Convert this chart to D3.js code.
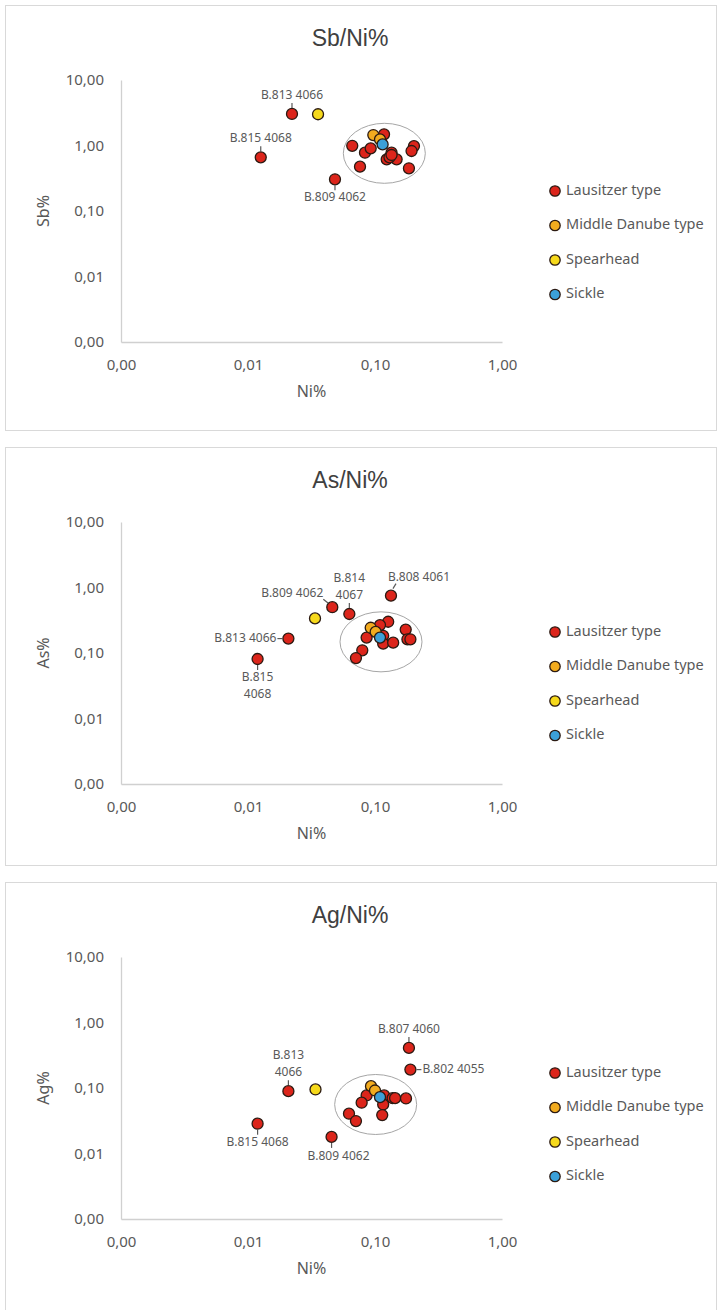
<!DOCTYPE html>
<html>
<head>
<meta charset="utf-8">
<script src="https://cdn.jsdelivr.net/npm/d3@7"></script>
<style>
  body { margin: 0; background: #fff; }
  text { font-family: "Noto Sans", sans-serif; fill: #595959; }
  .title { font-family: "Liberation Sans Narrow", "Liberation Sans", sans-serif; fill: #404040; }
</style>
</head>
<body>
<svg width="719" height="1310"></svg>
<script>
const width = 719;
const height = 1310;

const typeNames = ["Lausitzer type", "Middle Danube type", "Spearhead", "Sickle"];
const typeColors = ["#dc251b", "#f2ab1f", "#f6d91b", "#3ca0d8"];
const xTickValues = [0.001, 0.01, 0.1, 1];
const yTickValues = [0.001, 0.01, 0.1, 1, 10];

// [Ni%, value%, type index]
const sbPoints = [
    [0.0222, 3.03, 0], [0.0126, 0.66, 0], [0.0484, 0.305, 0], [0.0662, 0.99, 0],
    [0.0834, 0.776, 0], [0.0925, 0.906, 0], [0.0762, 0.475, 0], [0.1178, 1.48, 0],
    [0.135, 0.776, 0], [0.1236, 0.615, 0], [0.148, 0.615, 0], [0.13, 0.66, 0],
    [0.135, 0.716, 0], [0.2027, 0.98, 0], [0.194, 0.824, 0], [0.185, 0.449, 0],
    [0.097, 1.445, 1], [0.1095, 1.24, 1], [0.0356, 3.0, 2], [0.1148, 1.04, 3],
];
const asPoints = [
    [0.0119, 0.081, 0], [0.0208, 0.166, 0], [0.0461, 0.5, 0], [0.0628, 0.394, 0],
    [0.1336, 0.75, 0], [0.127, 0.30, 0], [0.1095, 0.267, 0], [0.0859, 0.172, 0],
    [0.116, 0.183, 0], [0.116, 0.139, 0], [0.139, 0.144, 0], [0.1745, 0.228, 0],
    [0.18, 0.162, 0], [0.19, 0.162, 0], [0.0794, 0.11, 0], [0.0708, 0.0838, 0],
    [0.0925, 0.243, 1], [0.1012, 0.21, 1], [0.0337, 0.337, 2], [0.1095, 0.172, 3],
];
const agPoints = [
    [0.0119, 0.0285, 0], [0.0208, 0.0895, 0], [0.0455, 0.0179, 0], [0.185, 0.409, 0],
    [0.19, 0.191, 0], [0.0859, 0.0769, 0], [0.118, 0.0769, 0], [0.1377, 0.07, 0],
    [0.144, 0.07, 0], [0.1754, 0.0692, 0], [0.116, 0.056, 0], [0.0785, 0.0596, 0],
    [0.114, 0.0386, 0], [0.0624, 0.0405, 0], [0.0708, 0.0313, 0],
    [0.093, 0.1066, 1], [0.1, 0.0916, 1], [0.034, 0.095, 2], [0.1095, 0.0725, 3],
];

// [point index, text lines, placement]
const sbLabels = [
    [0, ["B.813 4066"], "above"],
    [1, ["B.815 4068"], "above"],
    [2, ["B.809 4062"], "below"],
];
const asLabels = [
    [4, ["B.808 4061"], "aboveRight"],
    [2, ["B.809 4062"], "aboveLeft"],
    [3, ["B.814", "4067"], "above"],
    [1, ["B.813 4066"], "left"],
    [0, ["B.815", "4068"], "below"],
];
const agLabels = [
    [3, ["B.807 4060"], "above"],
    [4, ["B.802 4055"], "right"],
    [1, ["B.813", "4066"], "above"],
    [0, ["B.815 4068"], "below"],
    [2, ["B.809 4062"], "belowRight"],
];

// cluster ellipse: [Ni%, value%] centre
const sbCluster = [0.1184, 0.76];
const asCluster = [0.1115, 0.148];
const agCluster = [0.1012, 0.056];

const panels = [
    { title: "Sb/Ni%", yLabel: "Sb%", points: sbPoints, labels: sbLabels, cluster: sbCluster, top: 5, h: 425, legendY: 111 },
    { title: "As/Ni%", yLabel: "As%", points: asPoints, labels: asLabels, cluster: asCluster, top: 447, h: 418, legendY: 110 },
    { title: "Ag/Ni%", yLabel: "Ag%", points: agPoints, labels: agLabels, cluster: agCluster, top: 882, h: 432, legendY: 116 },
];

const plot = { left: 121, top: 75, w: 381, h: 262 };
const fmt = (v) => d3.format(".2f")(v).replace(".", ",");

const svg = d3.select("svg");

panels.forEach((p) => {
    const pg = svg.append("g").attr("transform", `translate(0, ${p.top})`);

    pg.append("rect")
        .attr("x", 5.5).attr("y", 0.5)
        .attr("width", 711).attr("height", p.h)
        .attr("fill", "#fff")
        .attr("stroke", "#d9d9d9");

    pg.append("text")
        .attr("class", "title")
        .attr("x", 350).attr("y", 35)
        .attr("text-anchor", "middle")
        .attr("dominant-baseline", "middle")
        .style("font-size", "23px")
        .text(p.title);

    const g = pg.append("g").attr("transform", `translate(${plot.left}, ${plot.top})`);

    const x = d3.scaleLog().domain([0.001, 1]).range([0, plot.w]);
    const y = d3.scaleLog().domain([0.001, 10]).range([plot.h, 0]);

    // axes
    const yAxisG = g.append("g")
        .call(d3.axisLeft(y).tickValues(yTickValues).tickFormat(fmt).tickSize(0).tickPadding(17));
    const xAxisG = g.append("g")
        .attr("transform", `translate(0, ${plot.h})`)
        .call(d3.axisBottom(x).tickValues(xTickValues).tickFormat(fmt).tickSize(0).tickPadding(17));
    [yAxisG, xAxisG].forEach((a) => {
        a.select(".domain").attr("stroke", "#d0d0d0").attr("stroke-width", 1.3);
        a.selectAll("text")
            .style("font-family", "'Noto Sans', sans-serif")
            .style("font-size", "15px")
            .attr("fill", "#595959");
    });

    g.append("text")
        .attr("transform", `translate(${-76}, ${plot.h / 2}) rotate(-90)`)
        .attr("text-anchor", "middle")
        .attr("dominant-baseline", "middle")
        .style("font-size", "16px")
        .text(p.yLabel);

    g.append("text")
        .attr("x", plot.w / 2).attr("y", plot.h + 51)
        .attr("text-anchor", "middle")
        .attr("dominant-baseline", "middle")
        .style("font-size", "16px")
        .text("Ni%");

    // cluster ellipse
    g.append("ellipse")
        .attr("cx", x(p.cluster[0]))
        .attr("cy", y(p.cluster[1]))
        .attr("rx", 41).attr("ry", 30)
        .attr("fill", "none")
        .attr("stroke", "#a6a6a6")
        .attr("stroke-width", 1);

    // points
    g.selectAll("circle.pt")
        .data(p.points)
        .join("circle")
        .attr("class", "pt")
        .attr("cx", (d) => x(d[0]))
        .attr("cy", (d) => y(d[1]))
        .attr("r", 5.5)
        .attr("fill", (d) => typeColors[d[2]])
        .attr("stroke", "#2b1a12")
        .attr("stroke-width", 1.3);

    // data labels with leader lines
    p.labels.forEach(([idx, lines, pos]) => {
        const px = x(p.points[idx][0]);
        const py = y(p.points[idx][1]);
        let l, tx, ty, anchor;
        if (pos === "above") {
            l = [px, py - 6, px, py - 11];
            tx = px; ty = py - 18 - (lines.length - 1) * 17; anchor = "middle";
        } else if (pos === "below") {
            l = [px, py + 6, px, py + 11];
            tx = px; ty = py + 19; anchor = "middle";
        } else if (pos === "belowRight") {
            l = [px, py + 6, px, py + 11];
            tx = px + 7; ty = py + 20; anchor = "middle";
        } else if (pos === "left") {
            l = [px - 6, py, px - 11, py];
            tx = px - 12; ty = py; anchor = "end";
        } else if (pos === "right") {
            l = [px + 6, py, px + 11, py];
            tx = px + 12; ty = py; anchor = "start";
        } else if (pos === "aboveRight") {
            l = [px + 2, py - 7, px + 5, py - 12];
            tx = px - 3; ty = py - 18; anchor = "start";
        } else {
            l = [px - 4, py - 4, px - 9, py - 8];
            tx = px - 9; ty = py - 13; anchor = "end";
        }
        g.append("line")
            .attr("x1", l[0]).attr("y1", l[1])
            .attr("x2", l[2]).attr("y2", l[3])
            .attr("stroke", "#595959")
            .attr("stroke-width", 1.2);
        const t = g.append("text")
            .attr("text-anchor", anchor)
            .attr("dominant-baseline", "middle")
            .style("font-size", "12px");
        lines.forEach((s, i) => {
            t.append("tspan").attr("x", tx).attr("y", ty + i * 17).text(s);
        });
    });

    // legend
    const lg = pg.append("g").attr("transform", `translate(555, ${plot.top + p.legendY})`);
    const items = lg.selectAll("g")
        .data(typeNames)
        .join("g")
        .attr("transform", (d, i) => `translate(0, ${i * 34.5})`);
    items.append("circle")
        .attr("r", 5.2)
        .attr("fill", (d, i) => typeColors[i])
        .attr("stroke", "#2b1a12")
        .attr("stroke-width", 1.3);
    items.append("text")
        .attr("x", 11)
        .attr("dominant-baseline", "middle")
        .style("font-size", "14.5px")
        .text((d) => d);
});
</script>
</body>
</html>
